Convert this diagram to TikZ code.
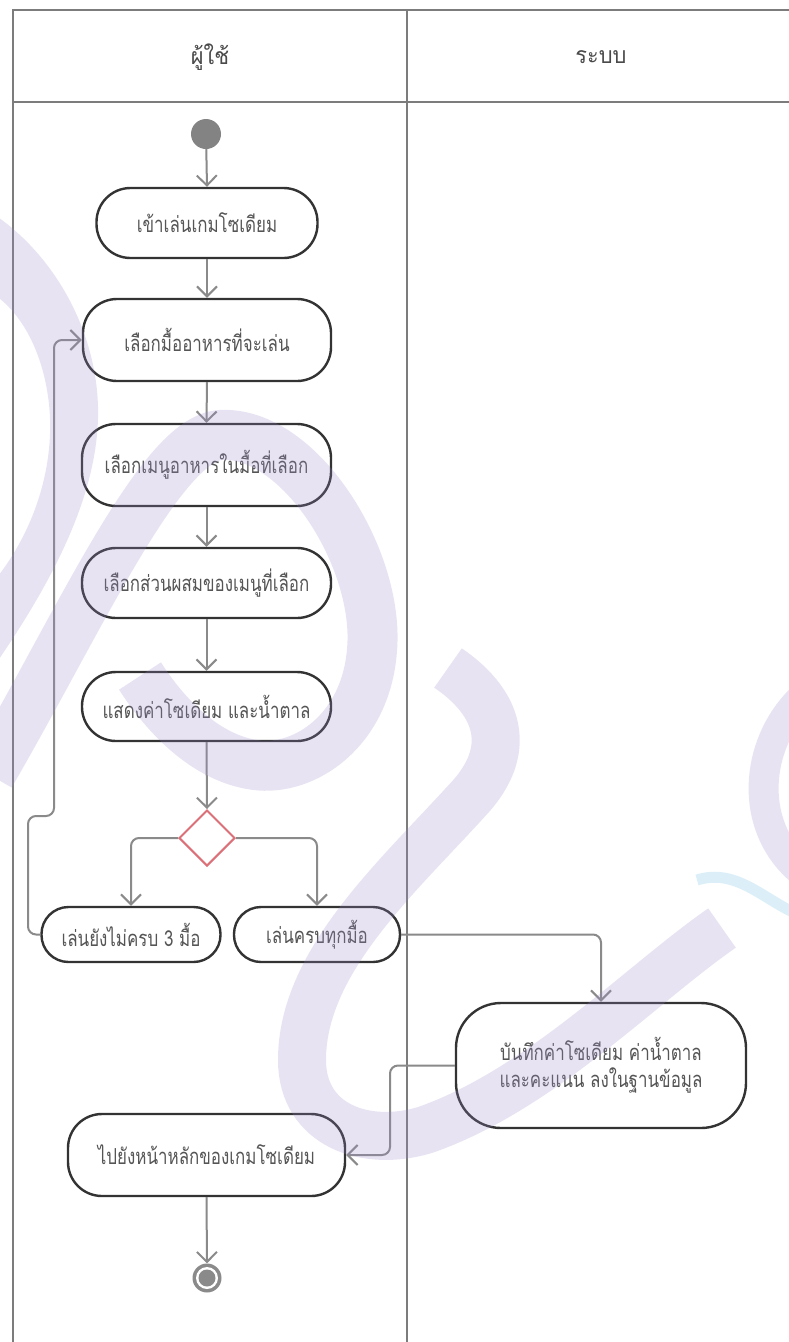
\documentclass[tikz,border=0pt]{standalone}
\usepackage{fontspec}
\newfontfamily\thaifont[Script=Thai,FakeStretch=0.77]{Loma}
\newfontfamily\thaihdr[Script=Thai,FakeStretch=0.95]{Loma}
\usetikzlibrary{arrows.meta,shapes.geometric}
\definecolor{lanec}{HTML}{7C7C7C}
\definecolor{boxc}{HTML}{333333}
\definecolor{txtc}{HTML}{555555}
\definecolor{hdrc}{HTML}{4A4A4A}
\definecolor{arrc}{HTML}{8A8A8A}
\definecolor{decc}{HTML}{DC7078}
\definecolor{wmc}{HTML}{9C88C8}
\definecolor{wmb}{HTML}{8CCDEB}
\begin{document}
\begin{tikzpicture}[x=1pt,y=-1pt,
  lane/.style={draw=lanec,line width=2pt},
  hdr/.style={font=\thaihdr\fontsize{23}{26}\selectfont,text=hdrc},
  actbox/.style={draw=boxc,line width=2.4pt,rounded corners=34pt,
    align=center,inner sep=0pt,text=txtc,font=\thaifont\fontsize{22}{27}\selectfont},
  conn/.style={draw=arrc,line width=2pt,rounded corners=8pt,
    -{Straight Barb[length=10pt,width=20pt,line width=2pt]}},
  wm/.style={draw=wmc,opacity=0.23,line cap=butt},
  decbox/.style={diamond,draw=decc,line width=2pt,minimum width=56pt,minimum height=56pt,inner sep=0pt},
  startdot/.style={circle,fill=arrc!95!black,minimum size=30pt,inner sep=0pt}
]
\useasboundingbox (0,0) rectangle (789,1342);
\fill[white] (0,0) rectangle (789,1342);

% swimlanes
\draw[lane] (13,1342) -- (13,10) -- (789,10);
\draw[lane] (13,102) -- (789,102);
\draw[lane] (407,10) -- (407,1342);
\node[hdr] (h1) at (210,57) {ผู้ใช้};
\node[hdr] (h2) at (601,57) {ระบบ};

% nodes
\node[startdot] (s0) at (206,134) {};
\node[actbox,minimum width=221pt,minimum height=70pt] (n1) at (207,223) {เข้าเล่นเกมโซเดียม};
\node[actbox,minimum width=248pt,minimum height=82pt] (n2) at (207,340) {เลือกมื้ออาหารที่จะเล่น};
\node[actbox,minimum width=249pt,minimum height=82pt] (n3) at (206.5,465) {เลือกเมนูอาหารในมื้อที่เลือก};
\node[actbox,minimum width=249pt,minimum height=70pt] (n4) at (206.5,583) {เลือกส่วนผสมของเมนูที่เลือก};
\node[actbox,minimum width=249pt,minimum height=69pt] (n5) at (206.5,706.5) {แสดงค่าโซเดียม และน้ำตาล};
\node[decbox] (d) at (207,838) {};
\node[actbox,rounded corners=27pt,minimum width=179pt,minimum height=55pt] (nl) at (131,934.5) {เล่นยังไม่ครบ 3 มื้อ};
\node[actbox,rounded corners=27pt,minimum width=166pt,minimum height=55pt] (nr) at (317,934.5) {เล่นครบทุกมื้อ};
\node[actbox,rounded corners=45pt,minimum width=290pt,minimum height=125pt] (ns) at (601,1065.5) {บันทึกค่าโซเดียม ค่าน้ำตาล\\และคะแนน ลงในฐานข้อมูล};
\node[actbox,minimum width=277pt,minimum height=82pt] (nf) at (206.5,1155) {ไปยังหน้าหลักของเกมโซเดียม};
\node[circle,fill=arrc,minimum size=29pt,inner sep=0pt] (e) at (207,1278) {};
\node[circle,fill=white,minimum size=22pt,inner sep=0pt] (e2) at (207,1278) {};
\node[circle,fill=arrc,minimum size=17pt,inner sep=0pt] (e3) at (207,1278) {};

\coordinate (j1) at (28,816);
\coordinate (j2) at (54,816);
\coordinate (k) at (390,1110);

% connectors
\draw[conn] (s0) -- (n1.north);
\draw[conn] (n1.south) -- (n2.north);
\draw[conn] (n2.south) -- (n3.north);
\draw[conn] (n3.south) -- (n4.north);
\draw[conn] (n4.south) -- (n5.north);
\draw[conn] (n5.south) -- (d.north);
\draw[conn] (d.west) -| (nl.north);
\draw[conn] (d.east) -| (nr.north);
\draw[conn] (nl.west) -| (j1) -- (j2) |- (n2.west);
\draw[conn] (nr.east) -| (ns.north);
\draw[conn] (ns.west) -| (k) |- (nf.east);
\draw[conn] (nf.south) -- (e.north);

% faint watermark (overlay)
\fill[wmc,opacity=0.23] (-5,215) .. controls (60,260) and (100,340) .. (98,418)
  .. controls (96,500) and (50,585) .. (-5,665)
  -- (-5,580) .. controls (35,530) and (52,470) .. (50,418)
  .. controls (48,370) and (30,320) .. (-5,295) -- cycle;
\draw[wm,line width=50pt] (-10,775) .. controls (80,620) and (160,440) .. (220,435)
  .. controls (300,430) and (380,560) .. (372,650)
  .. controls (366,730) and (305,772) .. (255,765)
  .. controls (205,758) and (165,715) .. (140,676);
\draw[wm,line width=48pt] (448,668) .. controls (495,700) and (515,745) .. (472,795)
  .. controls (400,875) and (302,960) .. (302,1060)
  .. controls (302,1125) and (365,1148) .. (425,1130)
  .. controls (540,1090) and (640,985) .. (722,928);
\draw[wm,line width=30pt] (800,700) .. controls (755,745) and (748,825) .. (800,870);
\draw[draw=wmb,opacity=0.3,line width=11pt] (697,880) .. controls (735,868) and (762,898) .. (795,913);
\end{tikzpicture}
\end{document}
